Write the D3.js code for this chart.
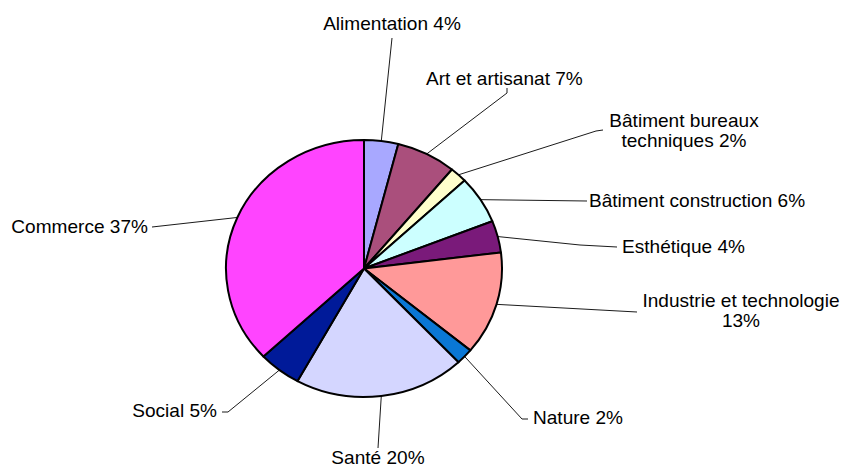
<!DOCTYPE html>
<html>
<head>
<meta charset="utf-8">
<script src="https://cdn.jsdelivr.net/npm/d3@7/dist/d3.min.js"></script>
<style>
  html, body { margin: 0; padding: 0; background: #fff; }
  svg { display: block; }
  text { font-family: "Liberation Sans", Arial, sans-serif; font-size: 18px; fill: #000; }
</style>
</head>
<body>
<svg id="chart" width="843" height="469"></svg>
<script>
// Répartition par domaine (%)
const categories = [
  "Alimentation", "Art et artisanat", "Bâtiment bureaux techniques",
  "Bâtiment construction", "Esthétique", "Industrie et technologie",
  "Nature", "Santé", "Social", "Commerce"
];
const values = [4, 7, 2, 6, 4, 13, 2, 20, 5, 37];
const colors = [
  "#A8A8FF", "#AA4F7C", "#FFFFCC", "#CCFFFF", "#7A1A7A",
  "#FF9999", "#0A77D5", "#D4D6FF", "#001A99", "#FF44FF"
];
// Label text lines (wrapped like the printed chart)
const labelLines = [
  ["Alimentation 4%"],
  ["Art et artisanat 7%"],
  ["Bâtiment bureaux", "techniques 2%"],
  ["Bâtiment construction 6%"],
  ["Esthétique 4%"],
  ["Industrie et technologie", "13%"],
  ["Nature 2%"],
  ["Santé 20%"],
  ["Social 5%"],
  ["Commerce 37%"]
];

// Layout
const cx = 364, cy = 268.5, rx = 138, ry = 128.5;
const textScaleX = 1.06;
const lineGap = 20;
// label anchor point, text anchor, and leader elbow points (from slice edge outward)
const labelLayout = [
  { x: 392, y: 30,  anchor: "middle", leader: [[392, 38]] },
  { x: 426, y: 85,  anchor: "start",  leader: [[507, 93], [507, 88]] },
  { x: 684, y: 127, anchor: "middle", leader: [[596, 131], [603, 130]] },
  { x: 589, y: 207, anchor: "start",  leader: [[587, 201]] },
  { x: 622, y: 253, anchor: "start",  leader: [[580, 245], [617, 247]] },
  { x: 741, y: 307, anchor: "middle", leader: [[637, 312]] },
  { x: 533, y: 424, anchor: "start",  leader: [[522, 419], [528, 419]] },
  { x: 378, y: 464, anchor: "middle", leader: [[378, 448]] },
  { x: 217, y: 417, anchor: "end",    leader: [[228, 412], [222, 412]] },
  { x: 148, y: 233, anchor: "end",    leader: [[152, 227]] }
];

const svg = d3.select("#chart");

const data = categories.map((c, i) => ({ name: c, value: values[i], color: colors[i], i }));
const pie = d3.pie().sort(null).value(d => d.value);
const arcs = pie(data);
const arc = d3.arc().innerRadius(0).outerRadius(rx);

// Leader lines
const line = d3.line();
svg.append("g").selectAll("path")
  .data(arcs)
  .join("path")
  .attr("fill", "none")
  .attr("stroke", "#000")
  .attr("stroke-width", 0.9)
  .attr("d", d => {
    const a = (d.startAngle + d.endAngle) / 2;
    const edge = [cx + rx * Math.sin(a), cy - ry * Math.cos(a)];
    return line([edge, ...labelLayout[d.data.i].leader]);
  });

// Pie slices (circle squashed vertically into an ellipse)
const g = svg.append("g")
  .attr("transform", `translate(${cx},${cy}) scale(1,${ry / rx})`);
g.selectAll("path")
  .data(arcs)
  .join("path")
  .attr("d", arc)
  .attr("fill", d => d.data.color)
  .attr("stroke", "#000")
  .attr("stroke-width", 2)
  .attr("stroke-linejoin", "round")
  .attr("vector-effect", "non-scaling-stroke");

// Labels
const labels = svg.append("g").selectAll("text")
  .data(arcs)
  .join("text")
  .attr("text-anchor", d => labelLayout[d.data.i].anchor)
  .attr("transform", d => {
    const L = labelLayout[d.data.i];
    return `translate(${L.x},${L.y}) scale(${textScaleX},1)`;
  });
labels.selectAll("tspan")
  .data(d => labelLines[d.data.i])
  .join("tspan")
  .attr("x", 0)
  .attr("y", (t, k) => k * lineGap)
  .text(t => t);
</script>
</body>
</html>
